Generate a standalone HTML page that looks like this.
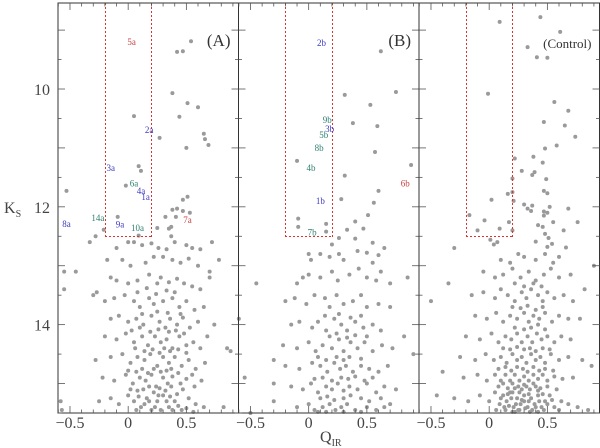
<!DOCTYPE html>
<html><head><meta charset="utf-8"><style>
body{margin:0;background:#fff}
svg{display:block}
text{font-family:"Liberation Serif",serif}
</style></head><body>
<svg id="chart" width="600" height="448" viewBox="0 0 600 448" xmlns="http://www.w3.org/2000/svg"></svg>
<script>
// ---- data ----
const xTicks=[-0.5,0,0.5];
const yTicks=[10,12,14];
const boxQ=[-0.2,0.2];
const boxKs=12.5;
const panelTitles=["(A)","(B)","(Control)"];
const ptsA=[[.54,9.19],[.47,9.36],[.42,9.37],[.38,10.07],[.51,10.24],[.6,10.31],[.44,10.47],[.05,10.46],[.27,10.83],[.65,10.76],[.66,10.85],[.69,10.95],[.5,11.0],[.09,11.31],[.11,11.39],[-.02,11.64],[-.53,11.73],[.51,11.83],[.47,11.88],[.42,12.03],[.38,12.05],[.53,12.1],[.47,12.07],[.32,12.17],[.41,12.17],[.37,12.34],[.35,12.37],[.25,12.36],[-.09,12.17],[-.21,12.39],[-.28,12.5],[.09,12.49],[.37,12.5],
[-.55,13.1],[-.45,13.1],[-.55,13.4],[-.58,15.3],[-.57,15.45],[-.33,12.6],[-.3,13.5],[-.27,13.45],[.85,14.4],[.88,14.45],[.78,12.9],[.72,12.6],[.7,13.1],[.7,13.2],[.74,14.0],[.82,15.4],[.68,14.2],
[-.1,12.7],[.0,12.6],[.05,12.6],[.12,12.65],[.2,12.62],[.26,12.7],[.33,12.72],[.4,12.6],[.5,12.65],[.55,12.7],[.62,12.72],
[-.18,12.9],[-.05,12.9],[.02,13.0],[.15,12.95],[.22,12.85],[.3,12.85],[.38,12.9],[.45,12.95],[.52,12.88],[.6,13.0],
[-.15,13.2],[-.1,13.25],[.0,13.3],[.08,13.25],[.18,13.15],[.25,13.3],[.28,13.2],[.35,13.28],[.42,13.22],[.48,13.3],[.55,13.35],[.62,13.4],
[-.2,13.6],[-.12,13.55],[-.03,13.5],[.05,13.6],[.1,13.7],[.18,13.55],[.22,13.65],[.3,13.6],[.38,13.55],[.44,13.7],[.5,13.6],[.57,13.75],[.65,13.7],
[-.15,13.9],[-.08,13.85],[.0,13.95],[.07,13.9],[.13,14.0],[.2,13.85],[.27,13.95],[.32,14.05],[.36,13.9],[.42,14.0],[.47,13.88],[.53,14.05],[.6,13.95],
[-.2,14.2],[-.1,14.25],[-.02,14.15],[.05,14.3],[.12,14.2],[.17,14.35],[.23,14.2],[.28,14.3],[.33,14.25],[.38,14.4],[.44,14.2],[.5,14.35],[.56,14.3],[.62,14.4],
[-.28,14.6],[-.15,14.55],[-.05,14.5],[.02,14.65],[.08,14.55],[.14,14.6],[.19,14.5],[.25,14.7],[.3,14.55],[.35,14.65],[.4,14.55],[.46,14.7],[.52,14.6],[.58,14.75],[.66,14.65],
[-.22,14.9],[-.12,14.95],[-.02,14.85],[.04,15.0],[.1,14.9],[.15,14.95],[.2,14.85],[.24,15.05],[.3,14.9],[.34,15.0],[.38,14.88],[.45,15.0],[.5,14.92],[.57,15.05],[.63,14.95],
[-.25,15.3],[-.15,15.25],[-.08,15.35],[.0,15.2],[.05,15.3],[.11,15.4],[.16,15.25],[.2,15.45],[.25,15.3],[.3,15.2],[.35,15.4],[.4,15.3],[.46,15.45],[.52,15.25],[.58,15.35],[.65,15.4],[.13,15.1],[.22,15.15],[.32,15.12],[.42,15.18]];
const ptsA2=[[.08,13.45],[.16,13.38],[.24,13.48],[.33,13.42],[.4,13.45],[.12,13.82],[.25,13.78],[.34,13.8],[.45,13.82],[.03,14.1],[.1,14.05],[.19,14.12],[.26,14.08],[.35,14.12],[.41,14.1],[.48,14.15],
[.06,14.4],[.14,14.45],[.21,14.42],[.27,14.48],[.31,14.4],[.36,14.45],[.43,14.42],[.5,14.48],[.0,14.78],[.07,14.8],[.12,14.75],[.17,14.82],[.22,14.75],[.28,14.8],[.33,14.78],[.37,14.75],[.43,14.82],[.55,14.85],
[.02,15.1],[.08,15.12],[.18,15.05],[.27,15.08],[.37,15.05],[.47,15.1],[.07,15.45],[.14,15.35],[.18,15.3],[.23,15.4],[.28,15.45],[.33,15.3],[.38,15.45],[.43,15.38],[.5,15.42],[.56,15.48],[.26,15.2],[.36,15.22],[.09,15.22]];
const ptsB=[[.62,9.36],[.75,10.05],[.31,10.1],[.53,10.27],[.38,10.58],[.59,10.63],[.57,11.07],[.88,11.29],[-.1,11.22],[.31,11.47],[.6,11.73],[.56,11.93],[.28,11.87],[.51,12.14],[.4,12.25],[-.09,12.2],[-.09,12.34],[.15,12.29],[.15,12.42],[.33,12.39],[.47,12.37],[.26,12.53],[.4,12.54],[.55,12.61],[.2,12.64],
[-.45,13.3],[-.6,13.9],[-.55,14.9],[.9,14.5],[.85,13.2],[.82,14.2],[-.3,14.6],[-.3,15.0],[-.3,15.3],[-.5,15.5],
[.0,12.8],[.02,12.9],[.1,12.8],[.18,12.85],[.26,12.8],[.3,12.9],[.42,12.75],[.5,12.78],[.6,12.82],[.55,12.95],[.65,12.7],
[-.05,13.2],[-.1,13.3],[.0,13.15],[.1,13.2],[.2,13.1],[.25,13.25],[.35,13.15],[.43,13.05],[.5,13.2],[.58,13.25],[.62,13.1],[.7,13.3],
[-.2,13.6],[-.12,13.55],[-.02,13.65],[.05,13.5],[.14,13.55],[.18,13.7],[.24,13.5],[.3,13.65],[.38,13.6],[.45,13.5],[.5,13.7],[.6,13.65],[.7,13.7],
[-.15,14.0],[-.08,13.95],[.03,14.05],[.08,13.95],[.15,14.1],[.22,13.9],[.28,14.0],[.33,14.1],[.4,13.95],[.47,14.05],[.55,14.0],[.62,14.1],
[-.22,14.35],[-.1,14.4],[.0,14.3],[.06,14.45],[.12,14.35],[.2,14.4],[.26,14.25],[.3,14.45],[.36,14.3],[.42,14.4],[.48,14.3],[.55,14.45],[.63,14.35],[.72,14.4],
[-.2,14.7],[-.08,14.75],[.03,14.65],[.1,14.7],[.16,14.8],[.22,14.65],[.27,14.75],[.32,14.7],[.38,14.8],[.45,14.7],[.52,14.75],[.6,14.8],[.68,14.7],
[-.15,15.05],[-.05,15.1],[.02,15.0],[.08,15.15],[.15,15.05],[.2,15.1],[.25,15.0],[.3,15.12],[.35,15.05],[.42,15.1],[.5,15.0],[.58,15.15],[.65,15.05],[.75,15.1],
[-.1,15.4],[.0,15.35],[.05,15.45],[.12,15.4],[.18,15.35],[.23,15.45],[.28,15.4],[.33,15.35],[.4,15.45],[.5,15.4],[.58,15.45],[.65,15.4],[.7,15.35]];
const ptsB2=[[.14,13.85],[.26,13.82],[.36,13.88],[.45,13.85],[.18,14.2],[.24,14.15],[.33,14.22],[.4,14.18],[.5,14.2],[.08,14.55],[.15,14.6],[.24,14.55],[.3,14.6],[.35,14.55],[.45,14.58],
[.05,14.92],[.12,14.9],[.2,14.95],[.28,14.9],[.34,14.92],[.4,14.88],[.48,14.95],[.55,14.9],[.1,15.25],[.16,15.22],[.22,15.28],[.3,15.25],[.36,15.2],[.45,15.25],[.52,15.3],[.62,15.25],[.08,15.48],[.15,15.48],[.3,15.48],[.45,15.48]];
const ptsC=[[.44,8.78],[.09,8.86],[.61,9.03],[.33,9.29],[.41,9.46],[.5,9.47],[-.01,10.08],[.56,10.22],[.68,10.37],[.47,10.56],[.65,10.62],[.74,10.81],[.48,11.01],[.58,10.96],[.22,11.18],[.38,11.15],[.46,11.25],[.28,11.39],[.37,11.46],[.39,11.41],[.49,11.53],[.2,11.52],[.47,11.73],[.5,11.77],[.16,11.78],[.2,11.75],[.02,11.88],[.21,11.9],[.3,11.96],[.33,12.03],[.36,12.07],[.37,11.98],[.52,12.0],[.68,12.03],[.47,12.08],[.5,12.1],[.47,12.15],[-.17,12.14],[-.04,12.23],[.17,12.26],[.55,12.26],[.76,12.26],[.42,12.31],[.46,12.34],[.09,12.37],[-.1,12.4],[.2,12.4],[.64,12.4],[.48,12.46],[.51,12.53],[.4,12.59],[.01,12.56],[.04,12.64],[.07,12.6],[-.3,12.7],[.5,12.68],[.54,12.63],[.66,12.69],
[-.35,13.3],[-.5,13.6],[-.4,14.8],[-.45,15.2],[.88,14.7],[.9,13.0],[.82,13.4],[.78,13.9],
[.1,12.9],[.18,12.95],[.25,12.8],[.3,12.85],[.4,12.9],[.48,12.8],[.55,12.95],[.6,12.85],
[-.05,13.1],[.05,13.2],[.12,13.15],[.2,13.05],[.27,13.2],[.34,13.1],[.4,13.25],[.47,13.15],[.53,13.05],[.6,13.2],[.7,13.15],
[-.15,13.5],[-.05,13.45],[.05,13.55],[.1,13.4],[.16,13.5],[.22,13.6],[.28,13.45],[.32,13.55],[.36,13.4],[.42,13.5],[.46,13.6],[.5,13.45],[.56,13.55],[.64,13.5],[.72,13.6],
[-.12,13.85],[-.02,13.9],[.06,13.8],[.12,13.95],[.18,13.85],[.24,13.9],[.3,13.8],[.34,13.95],[.38,13.85],[.43,13.9],[.48,13.8],[.54,13.95],[.6,13.85],[.68,13.9],
[-.2,14.2],[-.08,14.25],[.02,14.15],[.08,14.3],[.14,14.2],[.19,14.25],[.24,14.15],[.28,14.3],[.33,14.2],[.37,14.3],[.41,14.15],[.45,14.25],[.5,14.2],[.56,14.3],[.62,14.2],[.7,14.25],
[-.25,14.55],[-.12,14.6],[-.03,14.5],[.04,14.6],[.1,14.55],[.15,14.65],[.2,14.5],[.24,14.6],[.28,14.55],[.32,14.65],[.36,14.5],[.4,14.6],[.44,14.55],[.48,14.65],[.53,14.5],[.6,14.6],[.68,14.55],[.8,14.6],
[-.22,14.9],[-.1,14.85],[-.02,14.95],[.05,14.85],[.1,14.95],[.14,14.85],[.18,14.95],[.22,14.85],[.26,14.95],[.3,14.88],[.34,14.95],[.38,14.85],[.42,14.92],[.46,14.85],[.5,14.95],[.56,14.88],[.63,14.92],[.72,14.9],
[-.3,15.25],[-.18,15.3],[-.08,15.2],[.0,15.3],[.05,15.15],[.09,15.35],[.12,15.2],[.15,15.3],[.18,15.15],[.21,15.4],[.24,15.25],[.27,15.35],[.3,15.2],[.33,15.4],[.36,15.25],[.39,15.35],[.42,15.2],[.45,15.4],[.48,15.3],[.52,15.2],[.56,15.4],[.62,15.3],[.68,15.35],[.76,15.4],[.85,15.45],
[.14,15.45],[.2,15.48],[.26,15.45],[.32,15.05],[.22,15.08],[.4,15.05],[.28,15.1]];
const ptsC2=[[.22,13.3],[.3,13.35],[.38,13.3],[.45,13.35],[.2,13.7],[.27,13.72],[.33,13.68],[.4,13.75],[.46,13.7],[.22,14.05],[.3,14.08],[.36,14.05],[.42,14.0],[.48,14.08],
[.12,14.4],[.18,14.42],[.24,14.38],[.3,14.42],[.35,14.4],[.4,14.45],[.46,14.4],[.52,14.42],[.08,14.75],[.14,14.72],[.19,14.78],[.24,14.72],[.29,14.75],[.33,14.8],[.38,14.72],[.43,14.78],[.48,14.75],[.55,14.78],
[.08,15.05],[.12,15.0],[.16,15.08],[.2,15.0],[.25,15.05],[.3,15.02],[.35,15.1],[.38,15.0],[.44,15.08],[.5,15.05],[.58,15.1],
[.06,15.45],[.1,15.25],[.13,15.4],[.17,15.38],[.19,15.25],[.23,15.35],[.25,15.45],[.28,15.28],[.31,15.42],[.34,15.3],[.37,15.45],[.4,15.4],[.43,15.3],[.47,15.45],[.5,15.35],[.54,15.28],[.6,15.45],
[.16,15.18],[.2,15.15],[.26,15.15],[.34,15.18],[.42,15.12],[.46,15.18],[.3,15.3],[.22,15.48],[.35,15.48],[.42,15.48]];
const labA=["5a","2a","3a","6a","4a","1a","14a","9a","10a","8a","7a"];
const labAq=[.03,.18,-.15,.05,.11,.15,-.26,-.07,.08,-.53,.51];
const labAk=[9.2,10.7,11.34,11.6,11.73,11.83,12.19,12.3,12.36,12.29,12.22];
const labAc=["r","b","b","t","b","b","t","b","t","b","r"];
const labB=["2b","9b","3b","5b","8b","4b","6b","1b","7b"];
const labBq=[.11,.16,.18,.13,.09,.02,.83,.1,.03];
const labBk=[9.22,10.53,10.68,10.78,11.0,11.34,11.6,11.9,12.44];
const labBc=["b","t","b","t","t","t","r","b","t"];
// ---- layout ----
const panels=[{x0:58,pts:ptsA.concat(ptsA2),lab:labA,lq:labAq,lk:labAk,lc:labAc},{x0:238.5,pts:ptsB.concat(ptsB2),lab:labB,lq:labBq,lk:labBk,lc:labBc},{x0:419,pts:ptsC.concat(ptsC2),lab:[],lq:[],lk:[],lc:[]}];
const W=180.5,yTop=3,yBot=413,qMin=-0.603,qMax=0.948,kMin=8.54,kMax=15.5;
const cols={r:"#c84040",b:"#3a3ac0",t:"#2f8070"};
const svg=document.getElementById('chart');
const NS="http://www.w3.org/2000/svg";
function mk(t,a,p){const e=document.createElementNS(NS,t);for(const k in a)e.setAttribute(k,a[k]);(p||svg).appendChild(e);return e;}
const yS=k=>yTop+(k-kMin)/(kMax-kMin)*(yBot-yTop);
panels.forEach((P,i)=>{
  const xS=q=>P.x0+(q-qMin)/(qMax-qMin)*W;
  const g=mk('g',{});
  
  
  P.pts.forEach(p=>{const c=mk('circle',{cx:xS(p[0]),cy:yS(p[1]),r:2,fill:'#9a9a9a'},g);
    
    });
  const bx1=Math.round(xS(boxQ[0])),bx2=Math.round(xS(boxQ[1])),by=Math.round(yS(boxKs));
  const bg=mk('g',{fill:'#e03030'},g);
  
  
  for(let y=yTop;y<by;y+=4){mk('rect',{x:bx1,y:y,width:1,height:2},bg);mk('rect',{x:bx2,y:y,width:1,height:2},bg);}
  for(let x=bx1;x<=bx2;x+=4){mk('rect',{x:x,y:by,width:2,height:1},bg);}
  P.lab.forEach((s,j)=>{const t=mk('text',{x:xS(P.lq[j]),y:yS(P.lk[j])+3,'text-anchor':'middle','font-size':9,fill:cols[P.lc[j]]},g);t.textContent=s;
    
    });
  const f=mk('rect',{x:P.x0,y:yTop,width:W,height:yBot-yTop,fill:'none',stroke:'#333','stroke-width':1},g);
  
  
  for(let n=-6;n<=9;n++){const qq=n/10;if(qq<qMin)continue;const x=xS(qq);const L=(n%5===0)?7:3.5;
    mk('line',{x1:x,x2:x,y1:yBot,y2:yBot-L,stroke:'#555','stroke-width':.8},g);mk('line',{x1:x,x2:x,y1:yTop,y2:yTop+L,stroke:'#555','stroke-width':.8},g);}
  for(let k=9;k<=15.5;k+=0.5){const y=yS(k);const L=(k%1===0)?7:3.5;
    mk('line',{x1:P.x0,x2:P.x0+L,y1:y,y2:y,stroke:'#555','stroke-width':.8},g);mk('line',{x1:P.x0+W,x2:P.x0+W-L,y1:y,y2:y,stroke:'#555','stroke-width':.8},g);}
  xTicks.forEach(v=>{const t=mk('text',{x:xS(v),y:428,'text-anchor':'middle','font-size':16,fill:'#444'},g);t.textContent=(v<0?'\u2212':'')+Math.abs(v);
    
    });
  const tt=mk('text',{x:P.x0+W-8,y:i==2?48:46,'text-anchor':'end','font-size':i==2?13:17,fill:'#333'},g);tt.textContent=panelTitles[i];
  
  
});
yTicks.forEach(v=>{const t=mk('text',{x:50,y:yS(v)+6,'text-anchor':'end','font-size':16,fill:'#444'});t.textContent=v;
  
  });
const yl=mk('text',{x:4,y:213,'font-size':16,fill:'#444'});yl.innerHTML='K<tspan font-size="10" dy="4">S</tspan>';


const xl=mk('text',{x:320,y:442,'font-size':16,fill:'#444'});xl.innerHTML='Q<tspan font-size="10" dy="4">IR</tspan>';


</script>
</body></html>
